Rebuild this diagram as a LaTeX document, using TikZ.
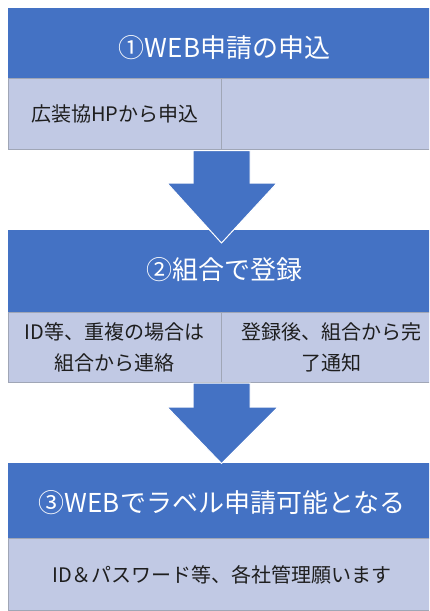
\documentclass[tikz,border=0pt]{standalone}
\usepackage{fontspec}
\newfontfamily\cjk{Noto Sans CJK JP}
\definecolor{hdr}{HTML}{4472C4}
\definecolor{cell}{RGB}{193,201,228}
\definecolor{cellline}{RGB}{160,166,182}
\definecolor{ink}{RGB}{30,30,30}
\begin{document}
\begin{tikzpicture}[x=1pt,y=-1pt,
  hdrbox/.style={fill=hdr, draw=none, inner sep=0pt, anchor=north west},
  cellbox/.style={fill=cell, draw=cellline, line width=0.8pt, inner sep=0pt, anchor=north west},
  arrowshape/.style={fill=hdr, draw=white, line width=1pt, line join=miter},
  htext/.style={text=white, font=\cjk\fontsize{26}{30}\selectfont, inner sep=0pt},
  ctext/.style={text=ink, font=\cjk\fontsize{20}{31}\selectfont, align=center, inner sep=0pt}]
\useasboundingbox (0,0) rectangle (429,611);
\clip (0,0) rectangle (429,611);
\fill[white] (0,0) rectangle (429,611);

% Step 1
\node[hdrbox, minimum width=433pt, minimum height=70.5pt] (h1) at (8,7.5) {};
\node[cellbox, minimum width=213pt, minimum height=71pt] (c1a) at (8,78) {};
\node[cellbox, minimum width=220pt, minimum height=71pt] (c1b) at (221,78) {};
\node[htext] (t1) at (224.5,48) {①WEB申請の申込};
\node[ctext] (s1a) at (115,114) {広装協HPから申込};

% Step 2
\node[hdrbox, minimum width=433pt, minimum height=82pt] (h2) at (8,230) {};
\node[cellbox, minimum width=213pt, minimum height=70pt] (c2a) at (8,312) {};
\node[cellbox, minimum width=220pt, minimum height=70pt] (c2b) at (221,312) {};
% Arrow 1 (drawn over the top of step 2)
\draw[arrowshape] (193,150.5) -- (250,150.5) -- (250,183) -- (277,183) -- (221.5,243)
  -- (167,183) -- (193,183) -- cycle;
\node[htext] (t2) at (224.5,270) {②組合で登録};
\node[ctext] (s2a) at (114.5,347) {ID等、重複の場合は\\組合から連絡};
\node[ctext] (s2b) at (331,347) {登録後、組合から完\\了通知};

% Step 3
\node[hdrbox, minimum width=433pt, minimum height=75pt] (h3) at (8,463) {};
\node[cellbox, minimum width=433pt, minimum height=72pt] (c3) at (8,538) {};
\draw[arrowshape] (193,383) -- (250,383) -- (250,407) -- (278,407) -- (221.5,463.5)
  -- (167,407) -- (193,407) -- cycle;
\node[htext] (t3) at (222,503) {③WEBでラベル申請可能となる};
\node[ctext] (s3) at (222,575) {ID＆パスワード等、各社管理願います};
\end{tikzpicture}
\end{document}
